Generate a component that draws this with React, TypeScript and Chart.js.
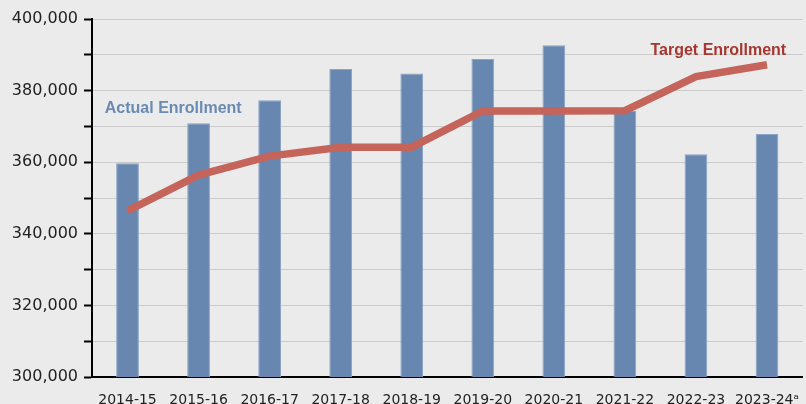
import React, { useEffect, useRef } from "react";
import { Chart, registerables } from "chart.js";

Chart.register(...registerables);

const categories = ["2014-15", "2015-16", "2016-17", "2017-18", "2018-19", "2019-20", "2020-21", "2021-22", "2022-23", "2023-24\u1d43"];
const actualEnrollment = [359700, 370900, 377300, 386000, 384800, 388800, 392700, 374300, 362200, 367900];
const targetEnrollment = [346400, 356400, 361700, 364200, 364200, 374300, 374300, 374400, 383900, 387200];
const yMin = 300000;
const yMax = 400000;
const yStep = 10000;
const labelStep = 20000;

const actualLabel = { text: "Actual Enrollment", index: -0.32, value: 373800 };
const targetLabel = { text: "Target Enrollment", index: 9.27, value: 389900 };

const labelPlugin = {
  id: "seriesLabels",
  afterDatasetsDraw(chart: any) {
    const { ctx, scales } = chart;
    const x = scales.x;
    const y = scales.y;
    ctx.save();
    ctx.font = "bold 16px 'Liberation Sans', Arial, sans-serif";
    ctx.textBaseline = "alphabetic";
    ctx.fillStyle = "#6a8ab6";
    ctx.textAlign = "left";
    ctx.fillText(actualLabel.text, x.getPixelForValue(actualLabel.index), y.getPixelForValue(actualLabel.value));
    ctx.fillStyle = "#a8352e";
    ctx.textAlign = "right";
    ctx.fillText(targetLabel.text, x.getPixelForValue(targetLabel.index), y.getPixelForValue(targetLabel.value));
    ctx.restore();
  },
};

export default function App() {
  const ref = useRef<HTMLCanvasElement | null>(null);
  useEffect(() => {
    if (!ref.current) return;
    const chart = new Chart(ref.current, {
      type: "bar",
      data: {
        labels: categories,
        datasets: [
          {
            type: "line",
            label: "Target Enrollment",
            data: targetEnrollment,
            borderColor: "#c4645a",
            borderWidth: 7.5,
            pointRadius: 0,
            tension: 0,
            fill: false,
            order: 0,
          } as any,
          {
            type: "bar",
            label: "Actual Enrollment",
            data: actualEnrollment,
            backgroundColor: "#6787b0",
            borderColor: "#8aa3c6",
            borderWidth: 1,
            barPercentage: 0.32,
            categoryPercentage: 1,
            order: 1,
          },
        ],
      },
      options: {
        animation: false,
        responsive: true,
        maintainAspectRatio: false,
        layout: { padding: { top: 19, right: 0, left: 0, bottom: 0 } },
        plugins: { legend: { display: false }, tooltip: { enabled: false } },
        scales: {
          x: {
            grid: { display: false },
            border: { color: "#000", width: 2 },
            ticks: {
              color: "#222",
              padding: 7,
              maxRotation: 0,
              autoSkip: false,
              font: { family: "'DejaVu Sans', sans-serif", size: 14 },
            },
            afterFit: (s: any) => {
              s.height = 27;
            },
          },
          y: {
            min: yMin,
            max: yMax,
            grid: { color: "#cbcbcb", lineWidth: 1, tickColor: "#000", tickWidth: 2, tickLength: 8 },
            border: { color: "#000", width: 2 },
            ticks: {
              stepSize: yStep,
              autoSkip: false,
              color: "#222",
              padding: 6,
              font: { family: "'DejaVu Sans', sans-serif", size: 16 },
              callback: (v: any) => (Number(v) % labelStep === 0 ? Number(v).toLocaleString("en-US") : ""),
            },
            afterFit: (s: any) => {
              s.width = 92;
            },
          },
        },
      },
      plugins: [labelPlugin],
    });
    return () => chart.destroy();
  }, []);
  return (
    <div style={{ position: "fixed", left: 0, top: 0, width: 806, height: 404, background: "#ebebeb" }}>
      <canvas ref={ref} />
    </div>
  );
}
